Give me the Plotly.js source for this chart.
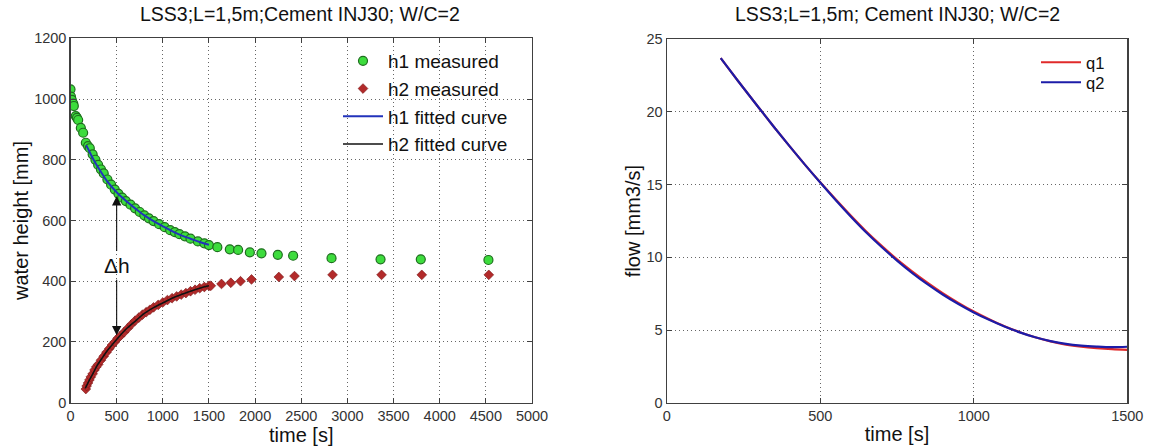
<!DOCTYPE html>
<html>
<head>
<meta charset="utf-8">
<script src="https://cdn.plot.ly/plotly-3.0.1.min.js"></script>
<style>
html,body{margin:0;padding:0;background:#fff;}
#chart{width:1150px;height:447px;}
</style>
</head>
<body>
<div id="chart"></div>
<script>
// ---------- Left chart: water height ----------
const h1MeasuredT = [0,5,14,30,36,57,70,83,112,137,166,190,209,240,270,300,330,360,400,440,480,520,560,600,650,700,750,800,850,900,960,1020,1080,1130,1180,1240,1300,1380,1450,1500,1591,1726,1816,1943,2069,2246,2412,2828,3359,3795,4528];
const h1MeasuredH = [1032,1008,997,985,977,944,938,931,905,889,856,845,838,818,800,783,768,755,735,718,702,688,675,664,652,640,628,617,607,598,588,578,568,562,555,548,540,531,525,519,512,505,503,495,492,487,484,476,472,472,470];

const h2MeasuredT = [166,175,190,205,220,240,260,280,300,330,360,390,420,450,480,510,540,580,620,660,700,740,780,820,860,900,950,1000,1050,1100,1150,1200,1250,1300,1350,1400,1450,1500,1520,1636,1737,1842,1961,2257,2427,2839,3370,3806,4532];
const h2MeasuredH = [45,55,65,75,85,95,108,118,126,140,153,166,178,190,200,212,220,232,245,258,270,280,290,298,306,314,322,330,338,344,350,356,361,367,372,377,381,385,385,391,395,400,406,414,417,421,421,421,421];

const h1FitT = [170,200,250,317,400,500,600,700,800,900,1000,1100,1200,1300,1400,1500];
const h1FitH = [848,830,800,766,728,693,665,640,617,598,581,565,551,540,529,520];

const h2FitT = [160,200,250,282,350,390,450,500,600,715,800,900,1003,1100,1200,1256,1300,1400,1500];
const h2FitH = [47,72,100,119,150,168,190,208,242,272,294,313,329,344,356,362,367,377,385];

// ---------- Right chart: flow ----------
const qT  = [176,200,250,300,350,400,450,500,550,600,650,700,750,800,850,900,950,1000,1050,1100,1150,1200,1250,1300,1350,1400,1450,1500];
const q1V = [23.7,23.03,21.65,20.29,18.95,17.65,16.38,15.16,13.99,12.86,11.78,10.79,9.86,9.02,8.24,7.52,6.87,6.27,5.74,5.26,4.85,4.50,4.22,4.00,3.85,3.75,3.68,3.64];
const q2V = [23.7,23.03,21.65,20.29,18.95,17.65,16.38,15.15,13.95,12.80,11.71,10.71,9.78,8.92,8.14,7.43,6.79,6.21,5.70,5.24,4.84,4.50,4.24,4.05,3.93,3.86,3.82,3.85];

const leftTitle  = 'LSS3;L=1,5m;Cement INJ30; W/C=2';
const rightTitle = 'LSS3;L=1,5m; Cement INJ30; W/C=2';

const FONT = 'Liberation Sans, Arial, sans-serif';

const traces = [
  {x:h1MeasuredT, y:h1MeasuredH, type:'scatter', mode:'markers', name:'h1 measured',
   xaxis:'x', yaxis:'y', legend:'legend',
   marker:{symbol:'circle', size:9, color:'#3ddc3d', line:{color:'#1f6e1f', width:1.2}}},
  {x:h2MeasuredT, y:h2MeasuredH, type:'scatter', mode:'markers', name:'h2 measured',
   xaxis:'x', yaxis:'y', legend:'legend',
   marker:{symbol:'diamond', size:7.5, color:'#b22a2a', line:{color:'#7a1a1a', width:0.6}}},
  {x:h1FitT, y:h1FitH, type:'scatter', mode:'lines', name:'h1 fitted curve',
   xaxis:'x', yaxis:'y', legend:'legend', line:{color:'#2233bb', width:2, shape:'spline'}},
  {x:h2FitT, y:h2FitH, type:'scatter', mode:'lines', name:'h2 fitted curve',
   xaxis:'x', yaxis:'y', legend:'legend', line:{color:'#111111', width:1.6, shape:'spline'}},
  {x:qT, y:q1V, type:'scatter', mode:'lines', name:'q1',
   xaxis:'x2', yaxis:'y2', legend:'legend2', line:{color:'#e02a2a', width:2.2, shape:'spline'}},
  {x:qT, y:q2V, type:'scatter', mode:'lines', name:'q2',
   xaxis:'x2', yaxis:'y2', legend:'legend3', line:{color:'#1c1ca8', width:2.2, shape:'spline'}}
];

const W = 1150, H = 447;
const px = v => v / W;
const py = v => (H - v) / H;

const axisCommon = {
  showline:true, linecolor:'#404040', linewidth:1.2, mirror:'ticks',
  ticks:'inside', ticklen:5, tickcolor:'#404040',
  showgrid:true, gridcolor:'#666', griddash:'1px,3px', gridwidth:1,
  zeroline:false, tickfont:{family:FONT, size:14.5, color:'#333'},
  automargin:false
};

const layout = {
  width:W, height:H,
  margin:{l:0, r:0, t:0, b:0},
  paper_bgcolor:'#fff', plot_bgcolor:'#fff',
  font:{family:FONT, color:'#111'},
  showlegend:true,
  xaxis: Object.assign({}, axisCommon, {
    domain:[px(70.5), px(532)], range:[0,5000], dtick:500, tick0:0, anchor:'y',
    title:{text:'time [s]', font:{family:FONT, size:20, color:'#111'}, standoff:3}
  }),
  yaxis: Object.assign({}, axisCommon, {
    domain:[py(402.7), py(38.3)], range:[0,1200], dtick:200, tick0:0, anchor:'x',
    title:{text:'water height [mm]', font:{family:FONT, size:20, color:'#111'}, standoff:0}
  }),
  xaxis2: Object.assign({}, axisCommon, {
    domain:[px(666.7), px(1127.3)], range:[0,1500], dtick:500, tick0:0, anchor:'y2',
    title:{text:'time [s]', font:{family:FONT, size:20, color:'#111'}, standoff:3}
  }),
  yaxis2: Object.assign({}, axisCommon, {
    domain:[py(402.7), py(39.3)], range:[0,25], dtick:5, tick0:0, anchor:'x2',
    title:{text:'flow [mm3/s]', font:{family:FONT, size:20, color:'#111'}, standoff:0}
  }),
  legend:{x:px(338), y:py(42), xanchor:'left', yanchor:'top', bgcolor:'rgba(0,0,0,0)',
    font:{family:FONT, size:19, color:'#111'}, borderwidth:0, itemwidth:40, tracegroupgap:0},
  legend2:{x:px(1036), y:py(45), xanchor:'left', yanchor:'top', bgcolor:'rgba(0,0,0,0)',
    font:{family:FONT, size:16.5, color:'#111'}, borderwidth:0, itemwidth:40},
  legend3:{x:px(1036), y:py(65), xanchor:'left', yanchor:'top', bgcolor:'rgba(0,0,0,0)',
    font:{family:FONT, size:16.5, color:'#111'}, borderwidth:0, itemwidth:40},
  annotations:[
    {xref:'paper', yref:'paper', x:px(300), y:py(14), text:leftTitle, showarrow:false,
     font:{family:FONT, size:19.5, color:'#111'}, xanchor:'center', yanchor:'middle'},
    {xref:'paper', yref:'paper', x:px(897), y:py(14), text:rightTitle, showarrow:false,
     font:{family:FONT, size:19.5, color:'#111'}, xanchor:'center', yanchor:'middle'},
    {xref:'x', yref:'y', x:500, y:453, text:'Δh', showarrow:false,
     font:{family:FONT, size:21, color:'#111'}, xanchor:'center', yanchor:'middle'},
    {xref:'x', yref:'y', x:500, y:680, ax:500, ay:495, axref:'x', ayref:'y', text:'',
     showarrow:true, arrowhead:2, arrowsize:1.7, arrowwidth:1.1, arrowcolor:'#111'},
    {xref:'x', yref:'y', x:500, y:222, ax:500, ay:410, axref:'x', ayref:'y', text:'',
     showarrow:true, arrowhead:2, arrowsize:1.7, arrowwidth:1.1, arrowcolor:'#111'}
  ]
};

Plotly.newPlot('chart', traces, layout, {displayModeBar:false, staticPlot:true});
</script>
</body>
</html>
